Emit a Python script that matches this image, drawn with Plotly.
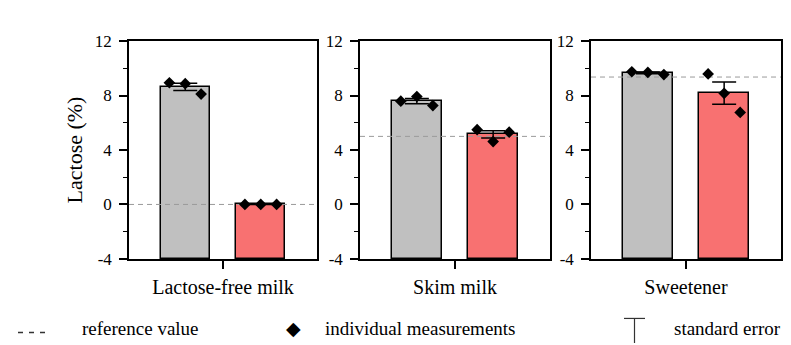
import plotly.graph_objects as go
import numpy as np

W, H = 791, 345

categories = ["Lactose-free milk", "Skim milk", "Sweetener"]
# per category: individual measurements for the gray and the red sample
meas_gray = [[8.94, 8.87, 8.11], [7.59, 7.93, 7.26], [9.75, 9.70, 9.54]]
meas_red = [[0.0, 0.0, 0.0], [5.49, 4.62, 5.31], [9.59, 8.16, 6.76]]
reference = [0.0, 5.0, 9.36]

y_ticks = [-4, 0, 4, 8, 12]
y_tick_text = ["-4", "0", "4", "8", "12"]
y_range = [-4, 12]

legend_labels = ["reference value", "individual measurements", "standard error"]

FONT = "Liberation Serif"
GRAY = "#C0C0C0"
RED = "#F87171"

x_doms = [(121, 309), (352, 542), (583, 773)]
y_dom = [1 - 256 / H, 1 - 25.5 / H]
X_HALF = 1.245
BAR_POS = [-0.5, 0.5]
BAR_W = 0.65
JIT = 0.21
BASE = y_range[0]

fig = go.Figure()

for i, cat in enumerate(categories):
    xa = "x" if i == 0 else f"x{i+1}"
    ya = "y" if i == 0 else f"y{i+1}"
    fig.add_trace(go.Scatter(x=[-X_HALF, X_HALF], y=[reference[i]] * 2, mode="lines",
                             line=dict(color="#9a9a9a", width=1, dash="5px,4px"),
                             xaxis=xa, yaxis=ya, showlegend=False, hoverinfo="skip"))
    for j, (vals, col) in enumerate([(meas_gray[i], GRAY), (meas_red[i], RED)]):
        v = np.array(vals)
        mean = v.mean()
        se = v.std(ddof=1) / np.sqrt(len(v))
        fig.add_trace(go.Bar(x=[BAR_POS[j]], y=[mean - BASE], base=BASE, width=BAR_W,
                             marker=dict(color=col, line=dict(color="black", width=1.5)),
                             xaxis=xa, yaxis=ya, showlegend=False))
        fig.add_trace(go.Scatter(x=[BAR_POS[j]], y=[mean], mode="markers",
                                 marker=dict(size=1, opacity=0),
                                 error_y=dict(type="data", array=[se], visible=True,
                                              color="black", thickness=1.5, width=12),
                                 xaxis=xa, yaxis=ya, showlegend=False))
        xs = [BAR_POS[j] - JIT, BAR_POS[j], BAR_POS[j] + JIT]
        fig.add_trace(go.Scatter(x=xs, y=vals, mode="markers",
                                 marker=dict(symbol="diamond", size=9, color="black"),
                                 xaxis=xa, yaxis=ya, showlegend=False))

    xkey = "xaxis" if i == 0 else f"xaxis{i+1}"
    ykey = "yaxis" if i == 0 else f"yaxis{i+1}"
    fig.update_layout(**{
        xkey: dict(domain=[x_doms[i][0] / W, x_doms[i][1] / W], range=[-X_HALF, X_HALF],
                   anchor=ya, tickvals=[0], ticktext=[cat], ticks="outside", ticklen=8,
                   tickwidth=1.5, tickcolor="black", showline=True, linecolor="black",
                   linewidth=1.5, mirror=True, showgrid=False, zeroline=False,
                   ticklabelstandoff=1,
                   tickfont=dict(family=FONT, size=20, color="black")),
        ykey: dict(domain=y_dom, range=y_range, anchor=xa, tickvals=y_ticks,
                   ticktext=y_tick_text,
                   ticks="outside", ticklen=8, tickwidth=1.5, tickcolor="black",
                   showline=True, linecolor="black", linewidth=1.5, mirror=True,
                   showgrid=False, zeroline=False, ticklabelstandoff=4,
                   minor=dict(dtick=2, tick0=0, ticks="outside", ticklen=4,
                              tickwidth=1.2, tickcolor="black", showgrid=False),
                   tickfont=dict(family=FONT, size=17, color="black")),
    })

fig.update_layout(yaxis_title=dict(text="Lactose (%)", font=dict(family=FONT, size=22, color="black"),
                                   standoff=6))

def px(x):
    return x / W

def py(y):
    return 1 - y / H

ly = 330
shapes = [
    dict(type="line", xref="paper", yref="paper", x0=px(10), x1=px(37), y0=py(334), y1=py(334),
         line=dict(color="#333333", width=1.5, dash="5px,6px")),
    dict(type="line", xref="paper", yref="paper", x0=px(616), x1=px(637), y0=py(319), y1=py(319),
         line=dict(color="#333333", width=1.2)),
    dict(type="line", xref="paper", yref="paper", x0=px(626.5), x1=px(626.5), y0=py(319), y1=py(345),
         line=dict(color="#333333", width=1.2)),
]
annos = [
    dict(text=legend_labels[0], x=px(72), y=py(ly), xanchor="left", yanchor="middle"),
    dict(text="◆", x=px(285), y=py(ly), xanchor="center", yanchor="middle"),
    dict(text=legend_labels[1], x=px(315), y=py(ly), xanchor="left", yanchor="middle"),
    dict(text=legend_labels[2], x=px(664), y=py(ly), xanchor="left", yanchor="middle"),
]
for a in annos:
    a.update(xref="paper", yref="paper", showarrow=False,
             font=dict(family=FONT, size=19, color="black"))

fig.update_layout(width=W, height=H, margin=dict(l=0, r=0, t=0, b=0),
                  paper_bgcolor="white", plot_bgcolor="white", font=dict(family=FONT),
                  shapes=shapes, annotations=annos, bargap=0, showlegend=False)

fig.write_html("out.html")
